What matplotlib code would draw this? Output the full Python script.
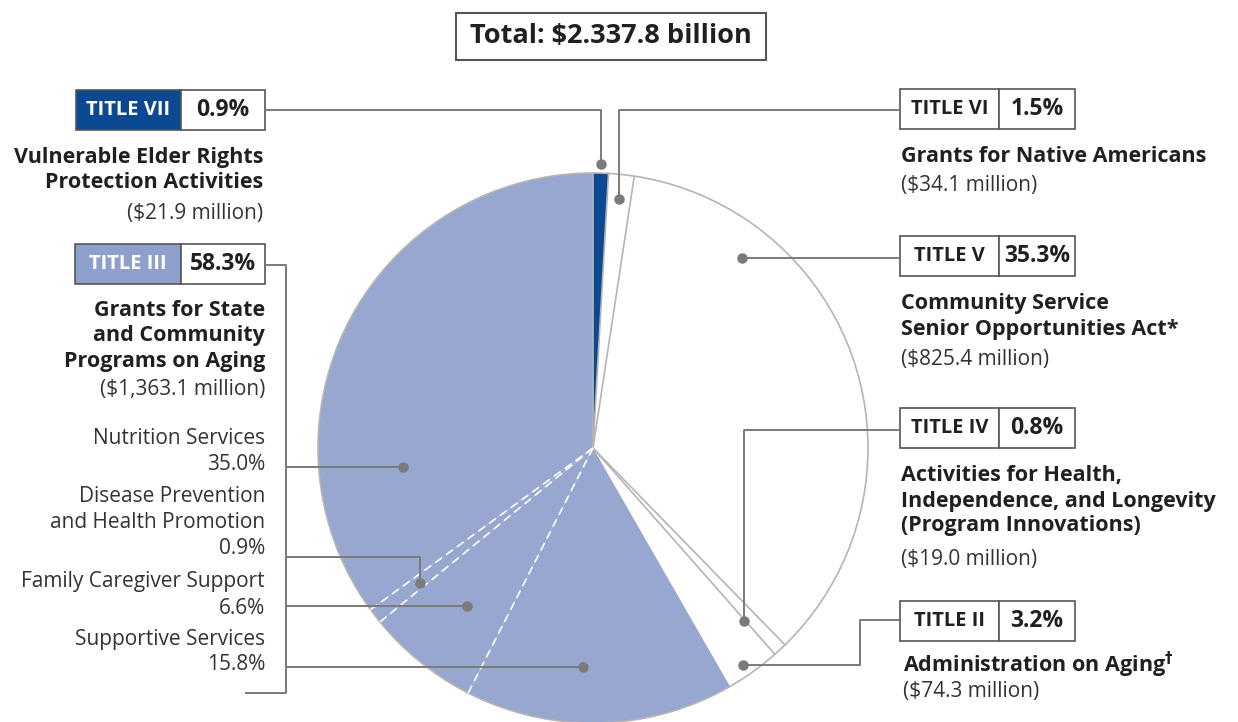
import matplotlib
matplotlib.use("Agg")
import matplotlib.pyplot as plt
import numpy as np
from matplotlib.patches import Rectangle, Circle

# ---------------- data ----------------
wedge_names = ["Title VII", "Title VI", "Title V", "Title IV", "Title II",
               "Supportive Services", "Family Caregiver Support",
               "Disease Prevention and Health Promotion", "Nutrition Services"]
wedge_pcts = [0.9, 1.5, 35.3, 0.8, 3.2, 15.8, 6.6, 0.9, 35.0]
wedge_colors = ["#0b4a92", "white", "white", "white", "white",
                "#98a7cf", "#98a7cf", "#98a7cf", "#98a7cf"]

total_label = "Total: $2.337.8 billion"

title_labels = ["TITLE VII", "TITLE III", "TITLE VI", "TITLE V", "TITLE IV", "TITLE II"]
title_pcts = ["0.9%", "58.3%", "1.5%", "35.3%", "0.8%", "3.2%"]
title_desc = [["Vulnerable Elder Rights", "Protection Activities"],
              ["Grants for State", "and Community", "Programs on Aging"],
              ["Grants for Native Americans"],
              ["Community Service", "Senior Opportunities Act*"],
              ["Activities for Health,", "Independence, and Longevity", "(Program Innovations)"],
              ["Administration on Aging$^{\\mathbf{\\dagger}}$"]]
title_amounts = ["($21.9 million)", "($1,363.1 million)", "($34.1 million)",
                 "($825.4 million)", "($19.0 million)", "($74.3 million)"]

sub_labels = [["Nutrition Services", "35.0%"],
              ["Disease Prevention", "and Health Promotion", "0.9%"],
              ["Family Caregiver Support", "6.6%"],
              ["Supportive Services", "15.8%"]]

# ---------------- figure ----------------
W, H = 1238, 722
fig = plt.figure(figsize=(W / 100, H / 100), dpi=100)
ax = fig.add_axes([0, 0, 1, 1])
ax.set_xlim(0, W)
ax.set_ylim(H, 0)
ax.set_aspect("equal")
ax.axis("off")

FONT = "Open Sans"
DARK = "#231f20"
TXT = "#333333"
LINE = "#7a7a7a"
EDGE = "#b5b5b5"

cx, cy, R = 593, 448, 275
ax.pie(wedge_pcts, colors=wedge_colors, startangle=-90, counterclock=True,
       center=(cx, cy), radius=R, wedgeprops=dict(linewidth=0), frame=True)
ax.set_xlim(0, W)
ax.set_ylim(H, 0)
ax.axis("off")

ax.add_patch(Circle((cx, cy), R, fill=False, edgecolor=EDGE, lw=1.2, zorder=3))

cum = np.cumsum([0] + wedge_pcts)
def edge_pt(p, r=R):
    th = np.deg2rad(-90 + p * 3.6)
    return cx + r * np.cos(th), cy + r * np.sin(th)

for p in [cum[0], cum[1], cum[2], cum[3], cum[4]]:
    x, y = edge_pt(p)
    ax.plot([cx, x], [cy, y], color=EDGE, lw=1.2, zorder=3)
for p in [cum[6], cum[7], cum[8]]:
    x, y = edge_pt(p)
    ax.plot([cx, x], [cy, y], color="white", lw=1.2, ls=(0, (5, 3)), zorder=3)

# ---------------- total box ----------------
ax.add_patch(Rectangle((456, 13), 310, 47, fill=False, edgecolor="#555555", lw=1.5, zorder=4))
ax.text(611, 36, total_label, ha="center", va="center", fontsize=19.5,
        fontweight="bold", family=FONT, color=DARK)

# ---------------- title boxes ----------------
def title_box(x0, y0, w, h, xdiv, lab, pct, fill, lab_color):
    ax.add_patch(Rectangle((x0, y0), xdiv - x0, h, facecolor=fill, edgecolor="#555555", lw=1.2, zorder=4))
    ax.add_patch(Rectangle((xdiv, y0), x0 + w - xdiv, h, facecolor="white", edgecolor="#555555", lw=1.2, zorder=4))
    ax.text((x0 + xdiv) / 2, y0 + h / 2, lab, ha="center", va="center", fontsize=14.5,
            fontweight="bold", family=FONT, color=lab_color, zorder=5)
    ax.text((xdiv + x0 + w) / 2, y0 + h / 2, pct, ha="center", va="center", fontsize=16.5,
            fontweight="bold", family=FONT, color=DARK, zorder=5)

boxes = [(76, 90, 189, 40, 181, "#0b4a92", "white"),
         (75, 244, 190, 40, 181, "#8e9fcb", "white"),
         (900, 89, 175, 40, 999, "white", DARK),
         (900, 236, 175, 40, 999, "white", DARK),
         (900, 408, 175, 40, 999, "white", DARK),
         (900, 601, 175, 40, 999, "white", DARK)]
for (x0, y0, w, h, xd, fc, lc), lab, pct in zip(boxes, title_labels, title_pcts):
    title_box(x0, y0, w, h, xd, lab, pct, fc, lc)

# ---------------- descriptions ----------------
desc_pos = [(263, [157, 182], 213, "right"),
            (265, [311, 336, 361], 389, "right"),
            (901, [157], 186, "left"),
            (901, [304, 330], 359, "left"),
            (901, [475, 501, 526], 560, "left"),
            (903, [665], 692, "left")]
for (x, ys, ya, ha), lines, amt in zip(desc_pos, title_desc, title_amounts):
    for yy, t in zip(ys, lines):
        ax.text(x, yy, t, ha=ha, va="center", fontsize=15.5, fontweight="bold",
                family=FONT, color=DARK)
    ax.text(x, ya, amt, ha=ha, va="center", fontsize=15, family=FONT, color=TXT)

sub_pos = [[439, 465], [497, 523, 548], [582, 608], [640, 665]]
for ys, lines in zip(sub_pos, sub_labels):
    for yy, t in zip(ys, lines):
        ax.text(265, yy, t, ha="right", va="center", fontsize=15, family=FONT, color=TXT)

# ---------------- leader lines ----------------
def leader(pts, dot=True):
    xs, ys = zip(*pts)
    ax.plot(xs, ys, color=LINE, lw=1.4, zorder=6, solid_capstyle="butt")
    if dot:
        ax.plot(xs[-1], ys[-1], "o", color=LINE, ms=6.5, zorder=7)

leader([(265, 110), (601, 110), (601, 164)])
leader([(900, 110), (619, 110), (619, 199)])
leader([(900, 258), (742, 258)])
leader([(900, 430), (744, 430), (744, 621)])
leader([(900, 620), (860, 620), (860, 665), (743, 665)])
# title III bracket
leader([(265, 265), (286, 265), (286, 693), (245, 693)], dot=False)
leader([(286, 467), (403, 467)])
leader([(286, 557), (420, 557), (420, 583)])
leader([(286, 606), (467, 606)])
leader([(286, 667), (583, 667)])

fig.savefig("out.png", dpi=100)
